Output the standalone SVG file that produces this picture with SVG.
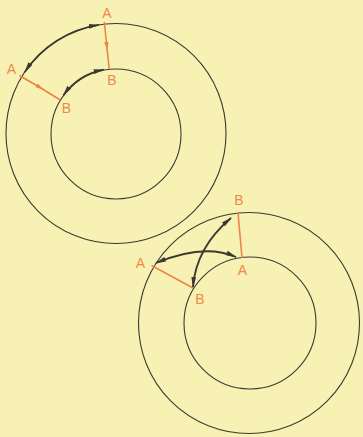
<svg xmlns="http://www.w3.org/2000/svg" width="363" height="437" viewBox="0 0 363 437">
<defs>
<style>
.bg{fill:#f8f1b4}
.circ{fill:none;stroke:#3c3a30;stroke-width:1.1}
.arc{fill:none;stroke:#3c3a30;stroke-width:1.8;marker-start:url(#ah);marker-end:url(#ah)}
.rad{fill:none;stroke:#ec8446;stroke-width:1.6}
.radm{marker-mid:url(#om)}
.lbl{font-family:"Liberation Sans",Arial,sans-serif;font-size:14px;fill:#ee8a48;text-anchor:middle}
</style>
<marker id="ah" viewBox="0 -3 11 6" refX="10" refY="0" markerWidth="11" markerHeight="6" markerUnits="userSpaceOnUse" orient="auto-start-reverse">
<path d="M0,-2.4 L11,0 L0,2.4 Z" fill="#3c3a30"/>
</marker>
<marker id="om" viewBox="0 -3 8 6" refX="4" refY="0" markerWidth="8" markerHeight="6" markerUnits="userSpaceOnUse" orient="auto">
<path d="M0,-2.2 L8,0 L0,2.2 Z" fill="#ec8446"/>
</marker>
</defs>
<rect class="bg" x="0" y="0" width="363" height="437"/>

<g id="figure1">
<circle class="circ" cx="116" cy="133.5" r="110"/>
<circle class="circ" cx="116" cy="134" r="65"/>
</g>
<g id="figure2">
<circle class="circ" cx="249" cy="323" r="110.5"/>
<circle class="circ" cx="250" cy="323" r="66"/>
</g>

<g id="connectors">
<!-- figure 1 -->
<path class="arc" d="M 24.8 72 A 110 110 0 0 1 98.8 24.9"/>
<path class="arc" d="M 63.4 95.3 A 65 65 0 0 1 103.6 69.7"/>
<path class="rad radm" d="M 104.3 22 L 106.8 46 L 109.2 69"/>
<path class="rad radm" d="M 19.5 75.5 L 40 87.5 L 60.3 100"/>
<!-- figure 2 -->
<path class="rad" d="M 238 212.5 L 242 258"/>
<path class="rad" d="M 151.5 265.5 L 193 288"/>
<path class="arc" d="M 156 263 Q 204 243 236 257"/>
<path class="arc" d="M 231 218 Q 196 247.5 193 287"/>
</g>

<g id="node-A-outer-top"><text class="lbl" x="107" y="18">A</text></g>
<g id="node-B-inner-top"><text class="lbl" x="112" y="85">B</text></g>
<g id="node-A-outer-left"><text class="lbl" x="11.5" y="74">A</text></g>
<g id="node-B-inner-left"><text class="lbl" x="66.5" y="113">B</text></g>

<g id="node2-B-outer-top"><text class="lbl" x="239" y="205">B</text></g>
<g id="node2-A-inner-top"><text class="lbl" x="242.5" y="275">A</text></g>
<g id="node2-A-outer-left"><text class="lbl" x="140.5" y="268">A</text></g>
<g id="node2-B-inner-left"><text class="lbl" x="200" y="304">B</text></g>
</svg>
